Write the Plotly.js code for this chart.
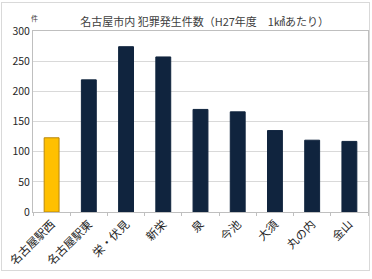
<!DOCTYPE html>
<html><head><meta charset="utf-8">
<script src="https://cdn.plot.ly/plotly-3.0.1.min.js"></script>
<style>
html,body{margin:0;padding:0;background:#fff;}
#frame{position:absolute;left:1px;top:2px;width:369px;height:269px;border:1px solid #d9d9d9;box-sizing:border-box;pointer-events:none;z-index:5;}
#chart{position:absolute;left:0;top:0;width:372px;height:279px;}
</style></head>
<body>
<div id="chart"></div><div id="frame"></div>
<script>
const categories = ["名古屋駅西","名古屋駅東","栄・伏見","新栄","泉","今池","大須","丸の内","金山"];
const values = [123, 219, 274, 257, 170, 166, 135, 119, 117];
const barColors = ["#FFC000","#10243E","#10243E","#10243E","#10243E","#10243E","#10243E","#10243E","#10243E"];
const lineColors = ["#B8860B","#10243E","#10243E","#10243E","#10243E","#10243E","#10243E","#10243E","#10243E"];
const yTicks = [0,50,100,150,200,250,300];
const font = "'Noto Sans CJK JP', 'Noto Sans', sans-serif";

Plotly.newPlot('chart', [{
  type:'bar', x:categories, y:values,
  marker:{color:barColors, line:{color:lineColors, width:1}},
  hoverinfo:'none'
}], {
  width:372, height:279,
  margin:{l:33, r:4, t:31, b:67},
  paper_bgcolor:'#fff', plot_bgcolor:'#fff',
  bargap:0.6,
  showlegend:false,
  title:{text:"名古屋市内 犯罪発生件数（H27年度　1㎢あたり）", font:{family:font, size:11, color:'#404040'}, x:0.55, xanchor:'center', y:0.92, yanchor:'middle'},
  xaxis:{type:'category', tickangle:-45, tickfont:{family:font, size:11.5, color:'#262626'},
    showline:true, linecolor:'#bfbfbf', linewidth:1, mirror:true,
    ticks:'outside', tickson:'boundaries', ticklen:3, tickcolor:'#bfbfbf',
    showgrid:false, fixedrange:true},
  yaxis:{range:[0,300], tickvals:yTicks, ticktext:yTicks.map(String),
    tickfont:{family:font, size:10.5, color:'#262626'},
    showgrid:true, gridcolor:'#d9d9d9', gridwidth:1,
    showline:true, linecolor:'#bfbfbf', linewidth:1, mirror:true,
    zeroline:false, ticks:'', ticklen:0, fixedrange:true},
  annotations:[{text:"件", xref:'paper', yref:'paper', x:-0.012, y:1.035, xanchor:'left', yanchor:'bottom', showarrow:false, font:{family:font, size:7, color:'#404040'}}]
}, {displayModeBar:false, staticPlot:true});
</script>
</body></html>
